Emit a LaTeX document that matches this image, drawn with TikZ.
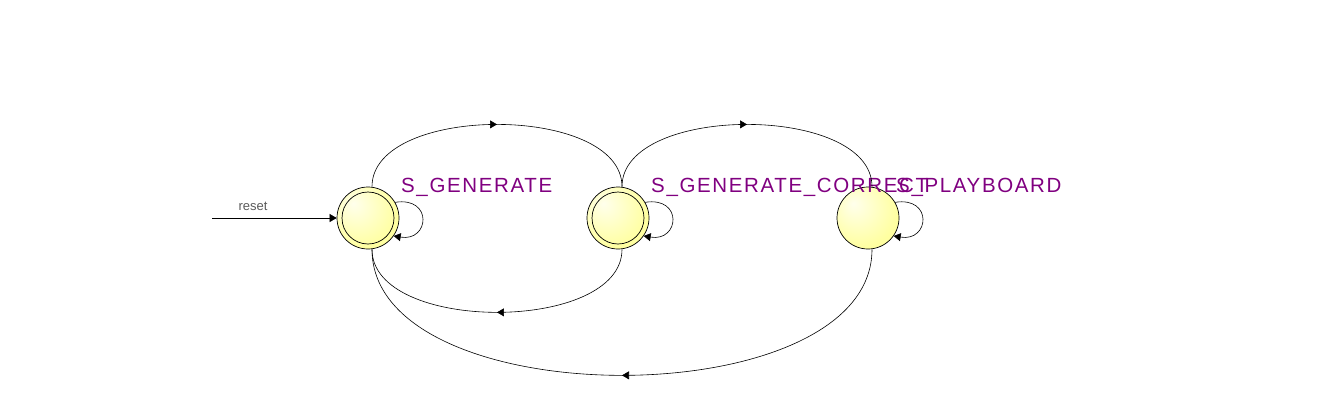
\documentclass[tikz,border=0pt]{standalone}
\usepackage{fontspec}
\setmainfont{Liberation Sans}
\newfontfamily\lblfont[LetterSpace=8]{Liberation Sans}
\usetikzlibrary{arrows.meta,decorations.markings}
\definecolor{statefill}{RGB}{255,255,160}
\definecolor{lblpurple}{RGB}{128,0,128}
\definecolor{resetgray}{RGB}{90,90,90}
\pgfdeclareradialshading{statelight}{\pgfpoint{-12bp}{12bp}}{color(0bp)=(white!80!statefill); color(30bp)=(statefill); color(60bp)=(statefill)}
\tikzset{
  fsmstate/.style={circle,draw=black,line width=0.7pt,shade,shading=statelight,minimum size=62pt,inner sep=0pt},
  acceptstate/.style={fsmstate,path picture={\draw[line width=0.7pt] (path picture bounding box.center) circle (26pt);}},
  statelabel/.style={anchor=west,text=lblpurple,font=\lblfont\fontsize{20.5}{22}\selectfont,inner sep=0pt},
  trans/.style={draw=black,line width=0.6pt,postaction={decorate},decoration={markings,mark=at position 0.5 with {\arrow{Triangle[length=7pt,width=8pt]}}}},
  selfloop/.style={draw=black,line width=0.6pt,-{Triangle[length=7pt,width=8pt]}},
  resetarrow/.style={draw=black,line width=0.6pt,-{Triangle[length=7pt,width=8pt]}},
  resetlabel/.style={text=resetgray,font=\fontsize{13}{14}\selectfont,inner sep=0pt}
}
\begin{document}
\begin{tikzpicture}[x=1pt,y=-1pt]
\useasboundingbox (0,0) rectangle (1338,418);
\node[acceptstate] (s1) at (368,218) {};
\node[acceptstate] (s2) at (618,218) {};
\node[fsmstate] (s3) at (868,218) {};
\node[statelabel] (l1) at (401,187) {S\_GENERATE};
\node[statelabel] (l2) at (651,187) {S\_GENERATE\_CORRECT};
\node[statelabel] (l3) at (896,187) {S\_PLAYBOARD};
\coordinate (rs) at (212,218);
\draw[resetarrow] (rs) -- (s1.west);
\node[resetlabel] (rl) at (253,206) {reset};
% top arcs
\draw[trans] ([xshift=4pt]s1.north) .. controls +(0,-83) and +(0,-83) .. ([xshift=4pt]s2.north);
\draw[trans] ([xshift=4pt]s2.north) .. controls +(0,-83) and +(0,-83) .. ([xshift=4pt]s3.north);
% bottom arcs
\draw[trans] ([xshift=4pt]s2.south) .. controls +(0,84) and +(0,84) .. ([xshift=4pt]s1.south);
\draw[trans] ([xshift=4pt]s3.south) .. controls +(0,168) and +(0,168) .. ([xshift=4pt]s1.south);
% self loops
\draw[selfloop] (s1.30) .. controls +(38,-6) and +(36,6) .. (s1.-35);
\draw[selfloop] (s2.30) .. controls +(38,-6) and +(36,6) .. (s2.-35);
\draw[selfloop] (s3.30) .. controls +(38,-6) and +(36,6) .. (s3.-35);
\end{tikzpicture}
\end{document}
